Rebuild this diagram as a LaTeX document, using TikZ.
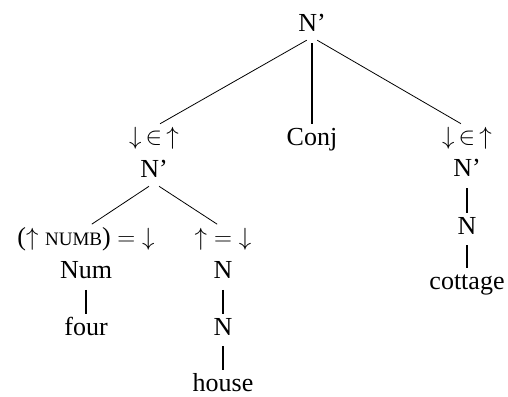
\documentclass[tikz,border=0pt]{standalone}
\usepackage{fontspec}
\setmainfont{Liberation Serif}
\usetikzlibrary{positioning}

\begin{document}
\begin{tikzpicture}[
      cat/.style={inner sep=0pt, text height=17pt, text depth=5pt,
                  anchor=base, font=\fontsize{26}{30}\selectfont},
      br/.style={line width=0.8pt, shorten <=6pt, shorten >=7pt},
      un/.style={line width=2pt, shorten <=6pt, shorten >=4pt}]
    \useasboundingbox (0pt,0pt) rectangle (508pt,-396pt);
    \node[cat] (top) at (312pt,-32pt) {N'};
    \node[cat, below=90pt of top, xshift=-158pt] (ml) {$\downarrow\,\in\,\uparrow$};
    \node[cat, below=91pt of top] (conj) {Conj};
    \node[cat, below=90pt of top, xshift=155pt] (mr) {$\downarrow\,\in\,\uparrow$};
    \node[cat, below=11pt of ml] (nl) {N'};
    \node[cat, below=10pt of mr] (nr) {N'};
    \node[cat, below=45pt of nl, xshift=-68pt] (fnum) {($\uparrow$ {\fontsize{19}{20}\selectfont NUMB}) $=\;\downarrow$};
    \node[cat, below=45pt of nl, xshift=69pt] (fhead) {${\uparrow}={\downarrow}$};
    \node[cat, below=11pt of fnum] (num) {Num};
    \node[cat, below=11pt of fhead] (na) {N};
    \node[cat, below=34pt of num] (four) {four};
    \node[cat, below=34pt of na] (nb) {N};
    \node[cat, below=34pt of nb, text depth=2pt] (house) {house};
    \node[cat, below=35pt of nr] (nc) {N};
    \node[cat, below=33pt of nc] (cottage) {cottage};
    \draw[br] (top.south) -- (ml.north);
    \draw[br] (top.south) -- (mr.north);
    \draw[un] (top.south) -- (conj.north);
    \draw[br] (nl.south) -- (fnum.north);
    \draw[br] (nl.south) -- (fhead.north);
    \draw[un] (num) -- (four);
    \draw[un] (na) -- (nb);
    \draw[un] (nb) -- (house);
    \draw[un] (nr) -- (nc);
    \draw[un] (nc) -- (cottage);
  \end{tikzpicture}
\end{document}
